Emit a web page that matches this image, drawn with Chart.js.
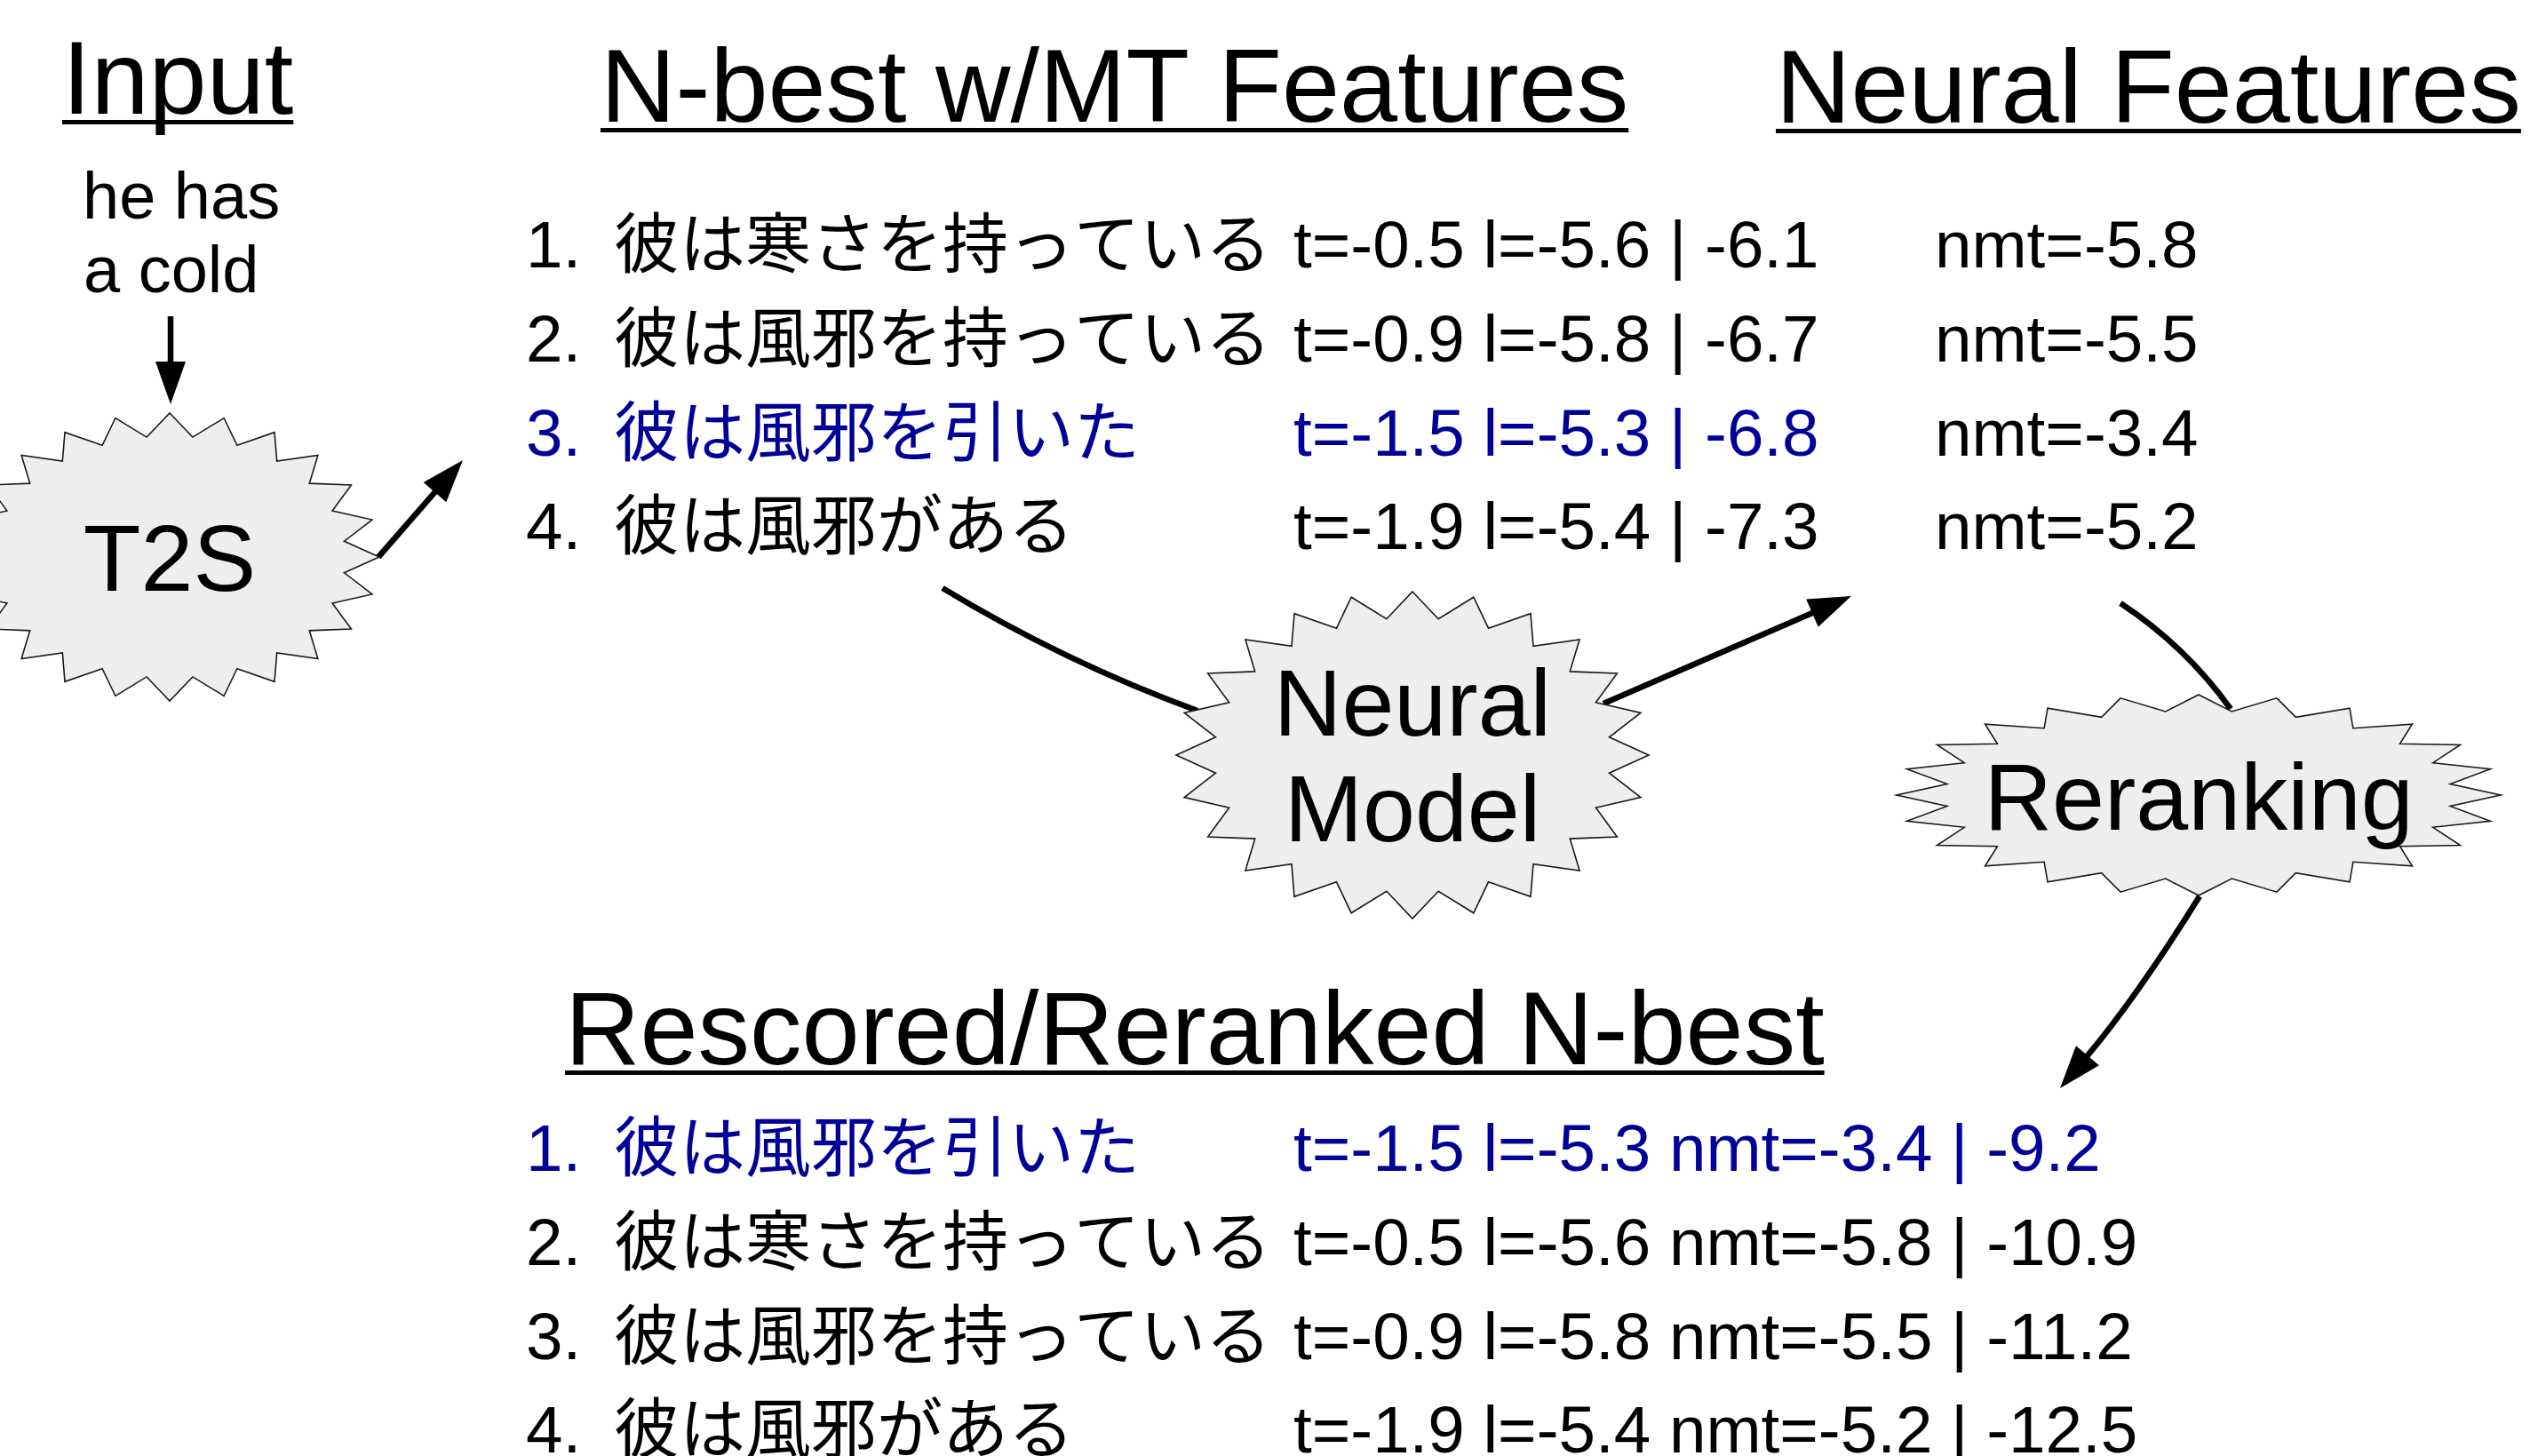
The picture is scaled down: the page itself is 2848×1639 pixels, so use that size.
<!DOCTYPE html>
<html>
<head>
<meta charset="utf-8">
<script src="https://cdn.jsdelivr.net/npm/chart.js@4.4.1/dist/chart.umd.min.js"></script>
<style>
  html, body { margin: 0; padding: 0; background: #fff; }
  canvas { display: block; }
</style>
</head>
<body>
<canvas id="myChart" width="2848" height="1639"></canvas>
<script>
// n-best list coming out of the T2S system
let hyps = ['彼は寒さを持っている', '彼は風邪を持っている', '彼は風邪を引いた', '彼は風邪がある'];
let tScores = [-0.5, -0.9, -1.5, -1.9];
let lScores = [-5.6, -5.8, -5.3, -5.4];
let mtTotals = [-6.1, -6.7, -6.8, -7.3];
// scores from the neural model
let nmtScores = [-5.8, -5.5, -3.4, -5.2];
// new order after reranking (indexes into hyps) and the new totals
let rerankOrder = [2, 0, 1, 3];
let rerankTotals = [-9.2, -10.9, -11.2, -12.5];
let bestHyp = 2;

let titles = ['Input', 'N-best w/MT Features', 'Neural Features', 'Rescored/Reranked N-best'];
let inputWords = ['he has', 'a cold'];
let stepLabels = [['T2S'], ['Neural', 'Model'], ['Reranking']];

// layout (pixels of the 2848x1639 picture)
const W = 2848, H = 1639;
const LATIN = '"Liberation Sans", Arial, sans-serif';
const CJK = '"Noto Sans CJK JP", "Noto Sans CJK SC", sans-serif';
const BLACK = '#000000', BLUE = '#000099';
const titlePos = [[70, 128], [676, 137], [1999, 138], [636, 1198]];
const listTop = 301, listBottom = 1318, rowGap = 105.8;
const colNum = 592, colHyp = 691, colMT = 1456, colNMT = 2178;
const listFont = 74.6;
const stars = [
    {cx: 191, cy: 627, rx: 236, ry: 162, lines: [665]},
    {cx: 1590, cy: 850, rx: 266, ry: 184, lines: [828, 947]},
    {cx: 2475, cy: 895, rx: 340, ry: 113, lines: [934]}
];

function fmt(v) {
    return v.toFixed(1);
}

// x/y go through the chart scales so the picture coords land on the canvas
function px(chart, x) { return chart.scales.x.getPixelForValue(x); }
function py(chart, y) { return chart.scales.y.getPixelForValue(y); }

function drawTitle(chart, ctx, text, x, y) {
    ctx.font = '117px ' + LATIN;
    ctx.fillStyle = BLACK;
    ctx.fillText(text, px(chart, x), py(chart, y));
    let w = ctx.measureText(text).width;
    ctx.fillRect(px(chart, x), py(chart, y) + 7, w, 5);
}

function drawStar(chart, ctx, s, labels) {
    let n = 24, inner = 0.84;
    ctx.beginPath();
    for (let i = 0; i < n * 2; i++) {
        let a = -Math.PI / 2 + i * Math.PI / n;
        let r = i % 2 == 0 ? 1 : inner;
        let x = px(chart, s.cx + s.rx * r * Math.cos(a));
        let y = py(chart, s.cy + s.ry * r * Math.sin(a));
        if (i == 0) ctx.moveTo(x, y); else ctx.lineTo(x, y);
    }
    ctx.closePath();
    ctx.fillStyle = '#eeeeee';
    ctx.fill();
    ctx.lineWidth = 1.6;
    ctx.strokeStyle = '#1a1a1a';
    ctx.stroke();
    ctx.fillStyle = BLACK;
    ctx.font = '106px ' + LATIN;
    ctx.textAlign = 'center';
    labels.forEach((t, i) => ctx.fillText(t, px(chart, s.cx), py(chart, s.lines[i])));
    ctx.textAlign = 'left';
}

// line (optionally curved) with an optional arrow head at the end
function drawArrow(chart, ctx, p0, p2, ctrl, head) {
    let x0 = px(chart, p0[0]), y0 = py(chart, p0[1]);
    let x2 = px(chart, p2[0]), y2 = py(chart, p2[1]);
    let cx = ctrl ? px(chart, ctrl[0]) : (x0 + x2) / 2;
    let cy = ctrl ? py(chart, ctrl[1]) : (y0 + y2) / 2;
    let dx = x2 - cx, dy = y2 - cy, len = Math.hypot(dx, dy);
    let ux = dx / len, uy = dy / len;
    let hl = 48, hw = 17;
    let ex = head ? x2 - ux * (hl - 4) : x2, ey = head ? y2 - uy * (hl - 4) : y2;
    ctx.strokeStyle = BLACK;
    ctx.lineWidth = 6.5;
    ctx.lineCap = 'butt';
    ctx.beginPath();
    ctx.moveTo(x0, y0);
    if (ctrl) ctx.quadraticCurveTo(cx, cy, ex, ey); else ctx.lineTo(ex, ey);
    ctx.stroke();
    if (head) {
        ctx.fillStyle = BLACK;
        ctx.beginPath();
        ctx.moveTo(x2, y2);
        ctx.lineTo(x2 - ux * hl - uy * hw, y2 - uy * hl + ux * hw);
        ctx.lineTo(x2 - ux * hl + uy * hw, y2 - uy * hl - ux * hw);
        ctx.closePath();
        ctx.fill();
    }
}

function drawRow(chart, ctx, y, num, hyp, scores, color) {
    ctx.fillStyle = color;
    ctx.font = listFont + 'px ' + LATIN;
    ctx.fillText(num + '.', px(chart, colNum), py(chart, y));
    ctx.font = '74px ' + CJK;
    ctx.fillText(hyp, px(chart, colHyp), py(chart, y));
    ctx.font = listFont + 'px ' + LATIN;
    ctx.fillText(scores, px(chart, colMT), py(chart, y));
}

const diagramPlugin = {
    id: 'diagram',
    afterDraw(chart) {
        let ctx = chart.ctx;
        ctx.save();
        ctx.textBaseline = 'alphabetic';
        ctx.textAlign = 'left';

        // connecting lines go under the star shapes
        drawArrow(chart, ctx, [192, 356], [192, 455], null, true);
        drawArrow(chart, ctx, [426, 627], [521, 518], null, true);
        drawArrow(chart, ctx, [1061, 662], [1348, 800], [1198, 745], false);
        drawArrow(chart, ctx, [1805, 792], [2084, 671], null, true);
        drawArrow(chart, ctx, [2387, 679], [2511, 798], [2460, 727], false);
        drawArrow(chart, ctx, [2476, 1009], [2319, 1225], [2405, 1123], true);

        stars.forEach((s, i) => drawStar(chart, ctx, s, stepLabels[i]));

        titles.forEach((t, i) => drawTitle(chart, ctx, t, titlePos[i][0], titlePos[i][1]));

        ctx.font = '74px ' + LATIN;
        ctx.fillStyle = BLACK;
        ctx.fillText(inputWords[0], px(chart, 93), py(chart, 246));
        ctx.fillText(inputWords[1], px(chart, 94), py(chart, 329));

        // first n-best list with MT features, and the neural score per line
        hyps.forEach((h, i) => {
            let y = listTop + i * rowGap;
            let color = i == bestHyp ? BLUE : BLACK;
            let s = 't=' + fmt(tScores[i]) + ' l=' + fmt(lScores[i]) + ' | ' + fmt(mtTotals[i]);
            drawRow(chart, ctx, y, i + 1, h, s, color);
            ctx.fillStyle = BLACK;
            ctx.fillText('nmt=' + fmt(nmtScores[i]), px(chart, colNMT), py(chart, y));
        });

        // reranked list
        rerankOrder.forEach((k, i) => {
            let y = listBottom + i * rowGap;
            let color = k == bestHyp ? BLUE : BLACK;
            let s = 't=' + fmt(tScores[k]) + ' l=' + fmt(lScores[k]) + ' nmt=' + fmt(nmtScores[k]) + ' | ' + fmt(rerankTotals[i]);
            drawRow(chart, ctx, y, i + 1, hyps[k], s, color);
        });
        ctx.restore();
    }
};

let ctx = document.getElementById('myChart').getContext('2d');
let myChart = new Chart(ctx, {
    type: 'scatter',
    data: { datasets: [{ data: [], pointRadius: 0 }] },
    options: {
        responsive: false,
        animation: false,
        devicePixelRatio: 1,
        layout: { padding: 0 },
        plugins: { legend: { display: false }, tooltip: { enabled: false } },
        scales: {
            x: { type: 'linear', min: 0, max: W, display: false },
            y: { type: 'linear', min: 0, max: H, reverse: true, display: false }
        }
    },
    plugins: [diagramPlugin]
});
</script>
</body>
</html>
